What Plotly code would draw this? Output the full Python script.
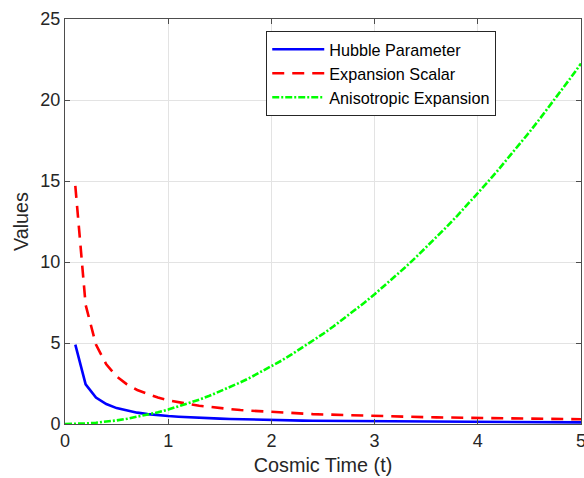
import plotly.graph_objects as go

t = [round(0.1 * i, 1) for i in range(51)]

hubble = [None, 4.9, 2.45, 1.63, 1.23, 0.98, 0.82, 0.70, 0.61, 0.54, 0.49,
          0.45, 0.41, 0.38, 0.35, 0.33, 0.31, 0.29, 0.27, 0.26, 0.245,
          0.23, 0.22, 0.21, 0.20, 0.196, 0.19, 0.18, 0.175, 0.17, 0.163,
          0.158, 0.153, 0.148, 0.144, 0.14, 0.136, 0.132, 0.129, 0.126, 0.123,
          0.12, 0.117, 0.114, 0.111, 0.109, 0.107, 0.104, 0.102, 0.10, 0.098]

expansion = [None, 14.7, 7.35, 4.9, 3.68, 2.94, 2.45, 2.1, 1.84, 1.63, 1.47,
             1.34, 1.23, 1.13, 1.05, 0.98, 0.92, 0.86, 0.82, 0.77, 0.74,
             0.70, 0.67, 0.64, 0.61, 0.59, 0.57, 0.54, 0.53, 0.51, 0.49,
             0.47, 0.46, 0.45, 0.43, 0.42, 0.41, 0.40, 0.39, 0.38, 0.37,
             0.36, 0.35, 0.34, 0.33, 0.33, 0.32, 0.31, 0.31, 0.30, 0.29]

anisotropic = [0, 0.009, 0.036, 0.08, 0.14, 0.22, 0.32, 0.44, 0.57, 0.72, 0.89,
               1.08, 1.28, 1.50, 1.74, 2.00, 2.28, 2.57, 2.88, 3.21, 3.56,
               3.92, 4.31, 4.71, 5.13, 5.56, 6.02, 6.49, 6.98, 7.48, 8.01,
               8.55, 9.11, 9.69, 10.29, 10.90, 11.53, 12.18, 12.85, 13.54, 14.24,
               14.96, 15.70, 16.46, 17.23, 18.02, 18.83, 19.66, 20.51, 21.37, 22.25]

x_ticks = [0, 1, 2, 3, 4, 5]
y_ticks = [0, 5, 10, 15, 20, 25]

FONT = "Liberation Sans, Arial, sans-serif"

fig = go.Figure()
fig.add_trace(go.Scatter(x=t, y=hubble, mode="lines", name="Hubble Parameter",
                         line=dict(color="#0000ff", width=2.6)))
fig.add_trace(go.Scatter(x=t, y=expansion, mode="lines", name="Expansion Scalar",
                         line=dict(color="#ff0000", width=2.6, dash="12px,8px")))
fig.add_trace(go.Scatter(x=t, y=anisotropic, mode="lines", name="Anisotropic Expansion",
                         line=dict(color="#00ff00", width=2.6, dash="7px,2px,2px,2px")))

axis_common = dict(
    showgrid=True, gridcolor="#e3e3e3", gridwidth=1,
    showline=True, linecolor="#4d4d4d", linewidth=1, mirror="ticks",
    ticks="inside", ticklen=5, tickcolor="#4d4d4d",
    tickfont=dict(family=FONT, size=18, color="#262626"),
    ticklabeloverflow="allow", automargin=False,
    zeroline=False,
)

fig.update_layout(
    width=584, height=478,
    margin=dict(l=65, r=3, t=19, b=54, autoexpand=False),
    paper_bgcolor="white", plot_bgcolor="white",
    font=dict(family=FONT, color="#262626"),
    xaxis=dict(range=[0, 5], tickvals=x_ticks,
               title=dict(text="Cosmic Time (t)", font=dict(size=19.8), standoff=8),
               **axis_common),
    yaxis=dict(range=[0, 25], tickvals=y_ticks,
               title=dict(text="Values", font=dict(size=19.8), standoff=6),
               **axis_common),
    legend=dict(x=0.39, y=0.97, xanchor="left", yanchor="top",
                bgcolor="white", bordercolor="#262626", borderwidth=1,
                font=dict(size=16.2, color="#000000"), tracegroupgap=0,
                itemwidth=52),
    showlegend=True,
)

fig.write_html("out.html", config={"displayModeBar": False},
               post_script="document.body.style.margin='0';document.body.style.overflow='hidden';")
